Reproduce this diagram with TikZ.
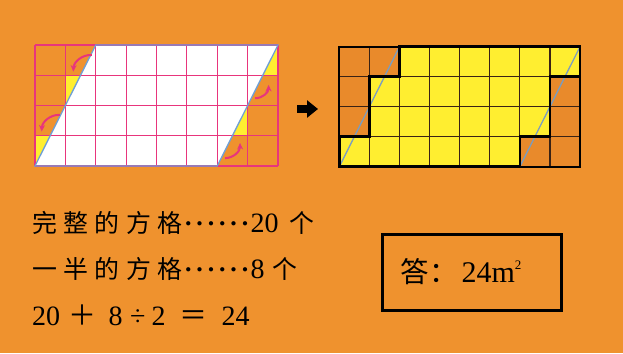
\documentclass[tikz,border=0pt]{standalone}
\usepackage{fontspec}
\setmainfont{Liberation Serif}
\newfontfamily\cjk[Scale=0.89]{Noto Sans CJK SC}
\newfontfamily\cjkw[Scale=0.89,LetterSpace=26]{Noto Sans CJK SC}
\newfontfamily\cjkop{Noto Sans CJK SC}
\usetikzlibrary{arrows.meta}
\definecolor{bg}{HTML}{EF922E}
\definecolor{cellor}{HTML}{E98A2B}
\definecolor{yel}{HTML}{FFEE30}
\definecolor{pk}{HTML}{E8357C}
\definecolor{bl}{HTML}{6E9FD6}
\definecolor{blg}{HTML}{7A9CC0}
\definecolor{dk}{HTML}{3A2215}
\newcommand{\dotrow}{\hbox to 68pt{\cleaders\hbox to 11.33pt{\hss\raisebox{6pt}{\fontsize{11}{11}\selectfont$\bullet$}\hss}\hfill}}
\tikzset{
  pline/.style={draw=pk,line width=1.1pt},
  bline/.style={draw=bl,line width=1.3pt},
  dline/.style={draw=dk,line width=1.2pt},
  oline/.style={draw=black,line width=2.6pt,line join=miter},
  par/.style={anchor=base west,inner sep=0pt,font=\fontsize{28}{32}\selectfont},
  ansbox/.style={draw=black,line width=3pt,minimum width=179pt,minimum height=76pt,inner sep=0pt,font=\fontsize{30}{34}\selectfont},
  mv/.style={-{Stealth[length=6.5pt,width=6pt]},draw=pk,line width=2pt},
  bigar/.style={-{Triangle[length=11pt,width=17pt]},line width=8pt},
}
\begin{document}
\begin{tikzpicture}[x=1pt,y=-1pt]
\fill[bg] (0,0) rectangle (623,353);
\useasboundingbox (0,0) rectangle (623,353);
% parallelogram on the grid
\begin{scope}[shift={(35,166)},x=30.375pt,y=30.25pt]
  \fill[white] (0,0) -- (6,0) -- (8,4) -- (2,4) -- cycle;
  \fill[yel] (0,0) -- (0,1) -- (0.5,1) -- cycle
             (1,2) -- (1,3) -- (1.5,3) -- cycle
             (6.5,1) -- (7,1) -- (7,2) -- cycle
             (7.5,3) -- (8,3) -- (8,4) -- cycle;
  \draw[pline,step=1] (0,0) grid (8,4);
  \draw[bline] (0,0) -- (6,0) -- (8,4) -- (2,4) -- cycle;
  \draw[mv] (1.87,3.67) to[bend right=45] (1.26,3.12);
  \draw[mv] (0.82,1.69) to[bend right=45] (0.22,1.14);
  \draw[mv] (7.25,2.24) to[bend right=45] (7.69,2.68);
  \draw[mv] (6.26,0.26) to[bend right=45] (6.75,0.76);
\end{scope}
\coordinate (a1) at (297,109);
\coordinate (a2) at (318,109);
\draw[bigar] (a1) -- (a2);
% rearranged into a rectangle
\begin{scope}[shift={(339.3,166.7)},x=30.09pt,y=30pt]
  \fill[cellor] (0,0) rectangle (8,4);
  \fill[yel] (0,0) -- (6,0) -- (6,1) -- (7,1) -- (7,3) -- (8,3) -- (8,4)
             -- (2,4) -- (2,3) -- (1,3) -- (1,1) -- (0,1) -- cycle;
  \draw[dline,step=1] (0,0) grid (8,4);
  \draw[bline,draw=blg] (0,0) -- (2,4) (6,0) -- (8,4);
  \draw[oline] (0,0) -- (6,0) -- (6,1) -- (7,1) -- (7,3) -- (8,3) -- (8,4)
             -- (2,4) -- (2,3) -- (1,3) -- (1,1) -- (0,1) -- cycle;
  \draw[oline,line width=2pt] (0,0) rectangle (8,4);
\end{scope}
\node[par] (full) at (32,232) {{\cjkw 完整的方格}\dotrow 20\hspace{10.5pt}{\cjk 个}};
\node[par] (half) at (32,278) {{\cjkw 一半的方格}\dotrow 8\hspace{8pt}{\cjk 个}};
\node[par] (calc) at (32,325) {20\hspace{8pt}{\cjkop ＋}\hspace{12.5pt}8\hspace{7.5pt}÷\hspace{6pt}2\hspace{13.5pt}{\cjkop ＝}\hspace{14.5pt}24};
\node[ansbox] (ans) at (472,272) {{\cjk\fontsize{32}{34}\selectfont 答：}\hspace{4pt}24m\raisebox{13pt}{\fontsize{13}{13}\selectfont 2}\hspace*{22pt}};
\end{tikzpicture}
\end{document}
